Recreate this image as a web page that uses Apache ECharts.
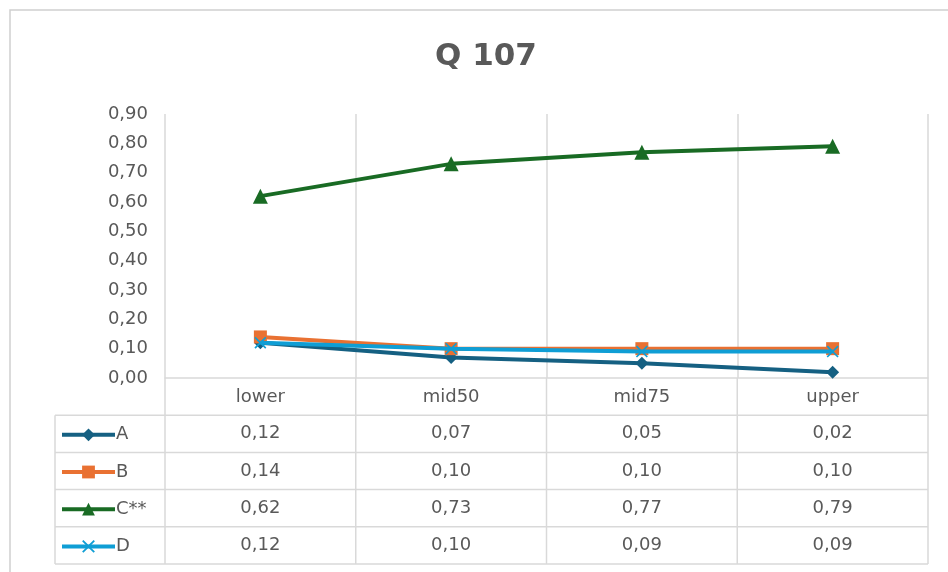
<!DOCTYPE html>
<html><head><meta charset="utf-8">
<script src="https://cdn.jsdelivr.net/npm/echarts@6/dist/echarts.min.js"></script>
<style>html,body{margin:0;padding:0;background:#fff}#c{width:948px;height:572px}</style>
</head><body><div id="c"></div>
<script>
var titleText = 'Q 107';
var categories = ['lower', 'mid50', 'mid75', 'upper'];
var seriesNames = ['A', 'B', 'C**', 'D'];
var valuesA = [0.12, 0.07, 0.05, 0.02];
var valuesB = [0.14, 0.10, 0.10, 0.10];
var valuesC = [0.62, 0.73, 0.77, 0.79];
var valuesD = [0.12, 0.10, 0.09, 0.09];
var yTicks = [0, 0.1, 0.2, 0.3, 0.4, 0.5, 0.6, 0.7, 0.8, 0.9];

var allValues = [valuesA, valuesB, valuesC, valuesD];
var colors = ['#156082', '#E97132', '#196B24', '#0F9ED5'];
var xPath = 'path://M1,0 L5,4 L9,0 L10,1 L6,5 L10,9 L9,10 L5,6 L1,10 L0,9 L4,5 L0,1 Z';
var symbols = ['diamond', 'rect', 'triangle', xPath];
var symSizes = [13, 13, 15, 12];
var fmt = function (v) { return v.toFixed(2).replace('.', ','); };
var FONT = '"DejaVu Sans", sans-serif';
var TXT = '#595959';
var LINE = '#d9d9d9';

var gridLeft = 165, gridRight = 20, gridTop = 114, gridBottom = 194;
var tableTop = 378, rowH = 37.2, tableLeft = 55;

var chart = echarts.init(document.getElementById('c'), null, {renderer: 'canvas'});
var series = seriesNames.map(function (n, i) {
  return {
    name: n, type: 'line', data: allValues[i], symbol: symbols[i], symbolSize: symSizes[i],
    lineStyle: {color: colors[i], width: 4}, itemStyle: {color: colors[i]},
    z: 2 + i, animation: false
  };
});
var legends = seriesNames.map(function (n, i) {
  return {orient: 'vertical', left: 60, top: tableTop + rowH * (i + 1.5) - 8, padding: 0,
    itemWidth: 53, itemHeight: 16, itemGap: 2, data: [n],
    lineStyle: {width: 4},
    textStyle: {fontFamily: FONT, fontSize: 18, color: TXT, padding: [0, 0, 0, -4]}};
});

chart.setOption({
  animation: false,
  title: {text: titleText, left: 430, top: 36,
    textStyle: {fontFamily: FONT, fontSize: 31, fontWeight: 'bold', color: TXT}},
  grid: {left: gridLeft, right: gridRight, top: gridTop, bottom: gridBottom},
  legend: legends,
  xAxis: {type: 'category', data: categories, boundaryGap: true,
    axisLine: {lineStyle: {color: LINE, width: 1.5}}, axisTick: {show: false},
    axisLabel: {fontFamily: FONT, fontSize: 18, color: TXT, margin: 10},
    splitLine: {show: true, lineStyle: {color: LINE, width: 1.5}}},
  yAxis: {type: 'value', min: 0, max: 0.9, interval: 0.1,
    axisLine: {show: false}, axisTick: {show: false}, splitLine: {show: false},
    axisLabel: {fontFamily: FONT, fontSize: 18, color: TXT, margin: 17, formatter: fmt}},
  series: series
});

// data table
var g = [];
g.push({type: 'rect', shape: {x: 10, y: 10, width: 980, height: 620},
  style: {fill: 'none', stroke: '#d0d0d0', lineWidth: 1.5}, silent: true});
var rightX = 948 - gridRight;
var tableBottom = tableTop + rowH * 5;
for (var r = 1; r <= 5; r++) {
  var y = tableTop + rowH * r;
  g.push({type: 'line', shape: {x1: tableLeft, y1: y, x2: rightX, y2: y},
    style: {stroke: LINE, lineWidth: 1.5}, silent: true});
}
g.push({type: 'line', shape: {x1: tableLeft, y1: tableTop + rowH, x2: tableLeft, y2: tableBottom},
  style: {stroke: LINE, lineWidth: 1.5}, silent: true});
for (var k = 0; k <= categories.length; k++) {
  var bx = gridLeft + (rightX - gridLeft) * k / categories.length;
  g.push({type: 'line', shape: {x1: bx, y1: tableTop, x2: bx, y2: tableBottom},
    style: {stroke: LINE, lineWidth: 1.5}, silent: true});
}
for (var s = 0; s < allValues.length; s++) {
  for (var c = 0; c < categories.length; c++) {
    var px = chart.convertToPixel({xAxisIndex: 0}, categories[c]);
    g.push({type: 'text', x: px, y: tableTop + rowH * (s + 1.5),
      style: {text: fmt(allValues[s][c]), fontFamily: FONT, fontSize: 18, fill: TXT,
        align: 'center', verticalAlign: 'middle'}, silent: true});
  }
}
chart.setOption({graphic: g});
</script>
</body></html>
